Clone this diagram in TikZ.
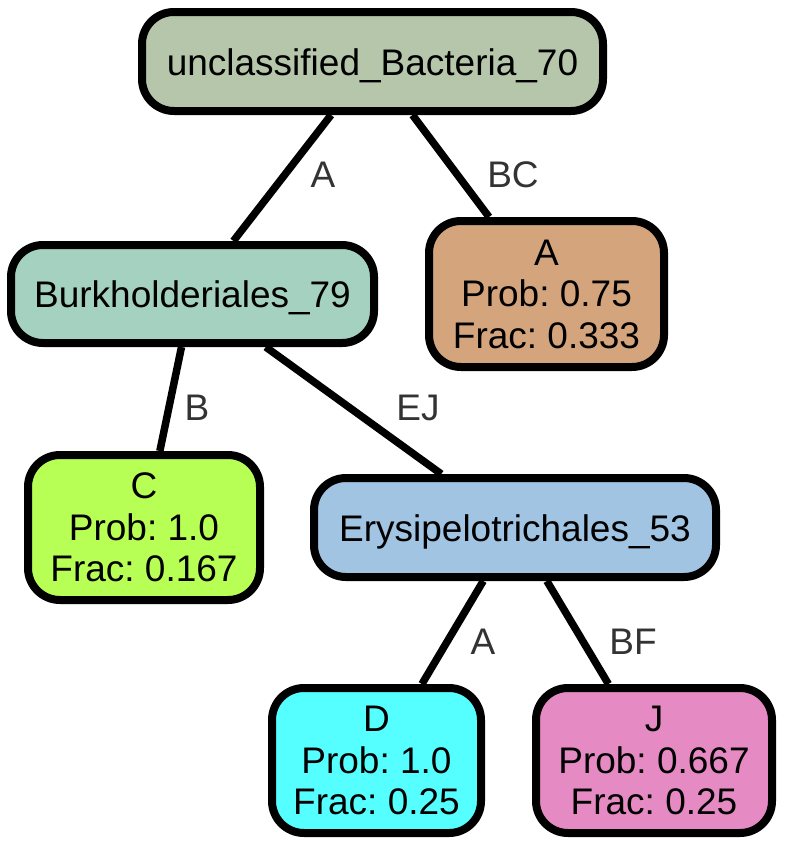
\documentclass[tikz,border=0pt]{standalone}
\usepackage{fontspec}
\setmainfont{Liberation Sans}
\frenchspacing
\definecolor{cRoot}{HTML}{B5C6AB}
\definecolor{cBurk}{HTML}{A5D2C0}
\definecolor{cA}{HTML}{D4A57D}
\definecolor{cC}{HTML}{B8FF55}
\definecolor{cErys}{HTML}{A0C4E2}
\definecolor{cD}{HTML}{55FFFF}
\definecolor{cJ}{HTML}{E68AC4}
\definecolor{cLab}{HTML}{333333}
\tikzset{
  treenode/.style={draw=black, line width=8pt, rounded corners=32pt, inner sep=0pt,
    align=center, font=\fontsize{37}{41.5}\selectfont},
  oneline/.style={text height=27pt, text depth=0pt},
  edgeline/.style={line width=7.5pt, draw=black},
  edgelab/.style={inner sep=0pt, text=cLab, font=\fontsize{37}{41.5}\selectfont, text height=27pt, text depth=0pt}
}
\begin{document}
\begin{tikzpicture}[x=1pt, y=-1pt]
\useasboundingbox (0,0) rectangle (786,846);
\node[treenode, oneline, fill=cRoot, minimum width=461pt, minimum height=99pt] (root) at (372.5,61.5) {unclassified\_Bacteria\_70};
\node[treenode, oneline, fill=cBurk, minimum width=363pt, minimum height=98pt] (burk) at (192.5,294) {Burkholderiales\_79};
\node[treenode, fill=cA, minimum width=235pt, minimum height=146pt] (na) at (546.5,294) {A\\Prob: 0.75\\Frac: 0.333};
\node[treenode, fill=cC, minimum width=232pt, minimum height=145pt] (nc) at (144,527.5) {C\\Prob: 1.0\\Frac: 0.167};
\node[treenode, oneline, fill=cErys, minimum width=402pt, minimum height=99pt] (erys) at (515,527.5) {Erysipelotrichales\_53};
\node[treenode, fill=cD, minimum width=209pt, minimum height=145pt] (nd) at (376.5,760.5) {D\\Prob: 1.0\\Frac: 0.25};
\node[treenode, fill=cJ, minimum width=236pt, minimum height=145pt] (nj) at (654,760.5) {J\\Prob: 0.667\\Frac: 0.25};
\draw[edgeline] (root) -- (burk);
\draw[edgeline] (root) -- (na);
\draw[edgeline] (burk) -- (nc);
\draw[edgeline] (burk) -- (erys);
\draw[edgeline] (erys) -- (nd);
\draw[edgeline] (erys) -- (nj);
\node[edgelab] (l1) at (323,174) {A};
\node[edgelab] (l2) at (513,174) {BC};
\node[edgelab] (l3) at (197,407) {B};
\node[edgelab] (l4) at (418,407) {EJ};
\node[edgelab] (l5) at (483,641) {A};
\node[edgelab] (l6) at (633,641) {BF};
\end{tikzpicture}
\end{document}
